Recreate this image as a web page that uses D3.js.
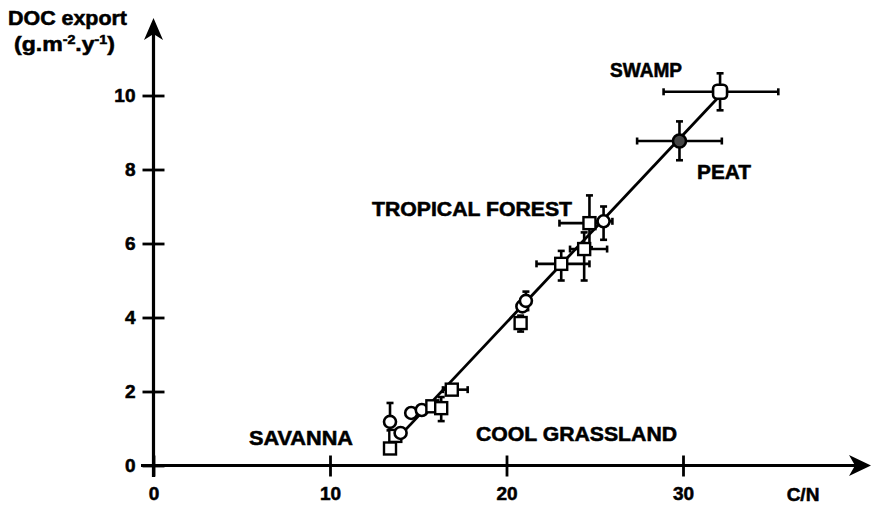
<!DOCTYPE html>
<html><head><meta charset="utf-8">
<script src="https://cdn.jsdelivr.net/npm/d3@7"></script>
<style>
html,body{margin:0;padding:0;background:#fff;}
svg{display:block;font-family:"Liberation Sans",Arial,Helvetica,sans-serif;font-weight:bold;}
svg text{stroke:#000;stroke-width:0.55px;}
</style></head>
<body>
<svg id="chart" width="872" height="508"></svg>
<script>
// ---- data ----
const xTicks = [0, 10, 20, 30];
const yTicks = [0, 2, 4, 6, 8, 10];
const cn     = [13.4, 13.4, 13.7, 14.0, 14.6, 15.2, 15.8, 16.3, 16.9, 20.8, 20.9, 21.1, 23.1, 24.4, 24.7, 25.5, 29.8, 32.1];
const doc    = [1.18, 0.46, 0.80, 0.88, 1.42, 1.50, 1.60, 1.55, 2.05, 3.85, 4.30, 4.45, 5.45, 5.85, 6.55, 6.60, 8.77, 10.10];
const shape  = ["c","s","s","c","c","c","s","s","s","s","c","c","s","s","s","c","p","w"];
const cnLo   = [null, null, null, null, null, null, null, null, 16.4, null, null, null, 21.7, 23.6, 23.0, 24.9, 27.4, 28.9];
const cnHi   = [null, null, null, null, null, null, null, null, 17.8, null, null, null, 24.7, 25.7, 25.6, 26.0, 32.2, 35.4];
const docLo  = [0.95, null, null, null, null, null, null, 1.20, null, 3.62, null, 4.20, 5.00, 5.00, 5.90, 6.10, 8.25, 9.60];
const docHi  = [1.69, null, null, null, null, null, null, 1.85, null, 4.05, null, 4.70, 5.80, 6.30, 7.30, 7.00, 9.30, 10.60];
const fitX   = [13.3, 32.1];
const fitY   = [0.47, 10.0];
const groupLabels = ["SWAMP", "PEAT", "TROPICAL FOREST", "SAVANNA", "COOL GRASSLAND"];

// ---- layout ----
const svg = d3.select("#chart");
const x = d3.scaleLinear().domain([0, 30]).range([153.5, 683]);
const y = d3.scaleLinear().domain([0, 10]).range([465.5, 95.5]);
const FS = 19;

// axes lines with arrows
svg.append("line").attr("x1", x(0)).attr("x2", x(0)).attr("y1", 477).attr("y2", 26)
  .attr("stroke", "#000").attr("stroke-width", 3.2);
svg.append("line").attr("x1", 141).attr("x2", 862).attr("y1", y(0)).attr("y2", y(0))
  .attr("stroke", "#000").attr("stroke-width", 3.2);
svg.append("path").attr("d", `M${x(0)},18 L${x(0)+9.5},40 L${x(0)},34 L${x(0)-9.5},40 Z`).attr("fill", "#000");
svg.append("path").attr("d", `M871,${y(0)} L849,${y(0)-10.5} L855,${y(0)} L849,${y(0)+10.5} Z`).attr("fill", "#000");

// y axis
const gy = svg.append("g").attr("transform", `translate(${x(0)},0)`)
  .call(d3.axisLeft(y).tickValues(yTicks).tickSize(11).tickPadding(7).tickFormat(d3.format("d")));
gy.select(".domain").remove();
gy.selectAll(".tick line").attr("x1", 11).attr("stroke", "#000").attr("stroke-width", 2.8);
gy.selectAll(".tick text").attr("font-size", FS).attr("font-weight", "bold")
  .attr("font-family", "Liberation Sans, Arial, sans-serif").attr("fill", "#000");

// x axis
const gx = svg.append("g").attr("transform", `translate(0,${y(0)})`)
  .call(d3.axisBottom(x).tickValues(xTicks).tickSize(11).tickPadding(10).tickFormat(d3.format("d")));
gx.select(".domain").remove();
gx.selectAll(".tick line").attr("y1", -10).attr("stroke", "#000").attr("stroke-width", 2.8);
gx.selectAll(".tick text").attr("font-size", FS).attr("font-weight", "bold")
  .attr("font-family", "Liberation Sans, Arial, sans-serif").attr("fill", "#000");

// axis titles
svg.append("text").attr("x", 803).attr("y", 501).attr("font-size", FS).attr("text-anchor", "middle").text("C/N");
svg.append("text").attr("x", 8).attr("y", 25).attr("font-size", 20).attr("textLength", 119)
  .attr("lengthAdjust", "spacingAndGlyphs").text("DOC export");
const t2 = svg.append("text").attr("x", 14).attr("y", 51).attr("font-size", 21)
  .attr("textLength", 101).attr("lengthAdjust", "spacingAndGlyphs");
t2.append("tspan").text("(g.m");
t2.append("tspan").attr("dy", -7).attr("font-size", 13).text("-2");
t2.append("tspan").attr("dy", 7).text(".y");
t2.append("tspan").attr("dy", -7).attr("font-size", 13).text("-1");
t2.append("tspan").attr("dy", 7).text(")");

// regression line
svg.append("line").attr("x1", x(fitX[0])).attr("y1", y(fitY[0])).attr("x2", x(fitX[1])).attr("y2", y(fitY[1]))
  .attr("stroke", "#000").attr("stroke-width", 2.8);

// error bars
const idx = d3.range(cn.length);
const eb = svg.append("g").attr("stroke", "#000").attr("stroke-width", 2.6);
idx.forEach(i => {
  if (cnLo[i] != null) {
    eb.append("line").attr("x1", x(cnLo[i])).attr("x2", x(cnHi[i])).attr("y1", y(doc[i])).attr("y2", y(doc[i]));
    [cnLo[i], cnHi[i]].forEach(v => eb.append("line").attr("x1", x(v)).attr("x2", x(v))
      .attr("y1", y(doc[i]) - 3.5).attr("y2", y(doc[i]) + 3.5));
  }
  if (docLo[i] != null) {
    eb.append("line").attr("y1", y(docLo[i])).attr("y2", y(docHi[i])).attr("x1", x(cn[i])).attr("x2", x(cn[i]));
    [docLo[i], docHi[i]].forEach(v => eb.append("line").attr("y1", y(v)).attr("y2", y(v))
      .attr("x1", x(cn[i]) - 3.5).attr("x2", x(cn[i]) + 3.5));
  }
});

// markers
const mk = svg.append("g");
idx.forEach(i => {
  const cx = x(cn[i]), cy = y(doc[i]), s = shape[i];
  if (s === "s") {
    mk.append("rect").attr("x", cx - 6).attr("y", cy - 6).attr("width", 12).attr("height", 12)
      .attr("fill", "#fff").attr("stroke", "#000").attr("stroke-width", 2.4);
  } else if (s === "c") {
    mk.append("circle").attr("cx", cx).attr("cy", cy).attr("r", 6)
      .attr("fill", "#fff").attr("stroke", "#000").attr("stroke-width", 2.6);
  } else if (s === "w") {
    mk.append("rect").attr("x", cx - 7).attr("y", cy - 7).attr("width", 14).attr("height", 14).attr("rx", 4)
      .attr("fill", "#fff").attr("stroke", "#000").attr("stroke-width", 2.6);
  } else {
    mk.append("circle").attr("cx", cx).attr("cy", cy).attr("r", 6.5)
      .attr("fill", "#444").attr("stroke", "#000").attr("stroke-width", 2.6);
  }
});

// group labels
const labelPos = [
  {x: 610, y: 77, w: 72},
  {x: 697, y: 179, w: 54},
  {x: 372, y: 216, w: 200},
  {x: 249, y: 445, w: 104},
  {x: 476, y: 441, w: 201}
];
groupLabels.forEach((t, i) => {
  svg.append("text").attr("x", labelPos[i].x).attr("y", labelPos[i].y).attr("font-size", 20)
    .attr("textLength", labelPos[i].w).attr("lengthAdjust", "spacingAndGlyphs").text(t);
});
</script>
</body></html>
